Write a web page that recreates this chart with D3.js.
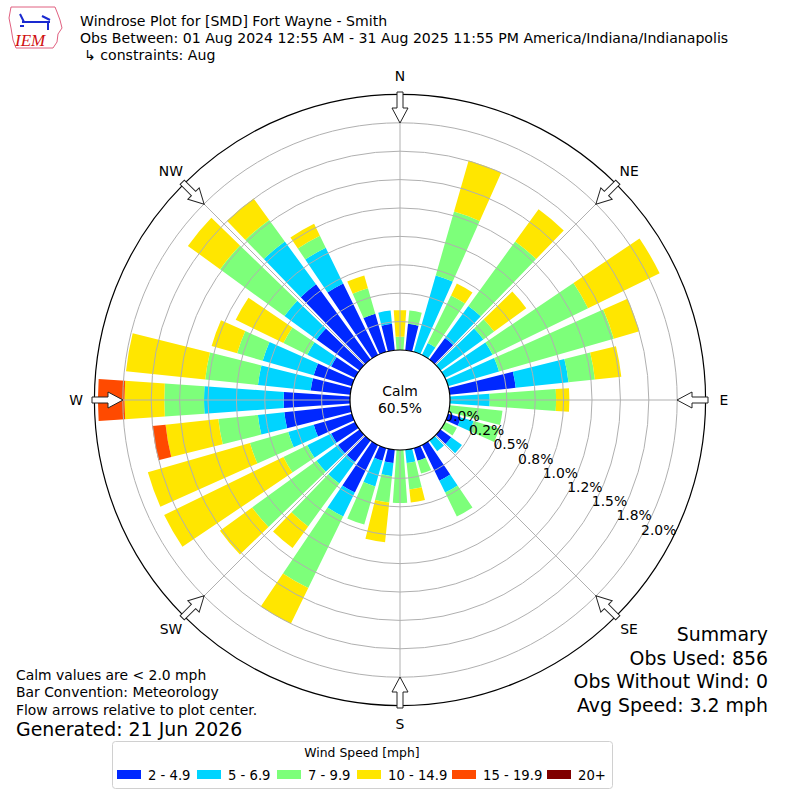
<!DOCTYPE html>
<html>
<head>
<meta charset="utf-8">
<script src="https://cdn.jsdelivr.net/npm/d3@7"></script>
<style>
  body { margin: 0; background: #fff; }
  text { font-family: "DejaVu Sans", sans-serif; fill: #000; }
  .title { font-size: 14.1px; }
  .dir-label { font-size: 13.9px; }
  .ring-label { font-size: 13.9px; }
  .note { font-size: 13.9px; }
  .big { font-size: 18.9px; }
  .legend-title { font-size: 12.4px; }
  .legend-text { font-size: 13.2px; }
</style>
</head>
<body>
<div id="windrose"></div>
<script>
// direction bins, degrees (meteorological, bar points where wind comes from)
const directions = [0, 10, 20, 30, 40, 50, 60, 70, 80, 90, 100, 110, 120, 130, 140, 150, 160, 170,
                    180, 190, 200, 210, 220, 230, 240, 250, 260, 270, 280, 290, 300, 310, 320, 330, 340, 350];

// percent of all obs per speed bin
const speed_2_5 = [0, .234, 0, 0, .234, 0, 0, 0, .584, 0, 0, .117, 0, .117, 0, .350, .117, 0,
                   0, .117, .117, .467, .234, .234, .234, .350, .584, .584, .350, .350, .234, .467, .818, .701, .350, .234];
const speed_5_7 = [0, 0, .701, .117, .350, .467, .467, .467, .467, .350, 0, .117, 0, .117, .117, .117, 0, .117,
                   0, .117, .234, .234, .234, .234, .234, .234, .234, .701, .467, .467, .234, .350, .467, .350, 0, .117];
const speed_7_10 = [.117, .117, .584, .467, .701, .117, .935, 1.051, .234, .584, .467, .234, .117, 0, 0, .234, .117, .234,
                    .467, .234, .350, .701, .467, .701, .234, .350, .350, .350, .467, .234, .234, .701, .234, .117, .234, 0];
const speed_10_15 = [.234, 0, .467, .117, .350, .350, .701, .234, .234, .117, 0, 0, 0, 0, 0, 0, 0, .117,
                     0, .350, 0, .350, .234, .350, 1.168, .935, .467, .350, .701, .234, .467, .350, .234, .117, .117, 0];
const speed_15_20 = [0, 0, 0, 0, 0, 0, 0, 0, 0, 0, 0, 0, 0, 0, 0, 0, 0, 0,
                     0, 0, 0, 0, 0, 0, 0, 0, .117, .234, 0, 0, 0, 0, 0, 0, 0, 0];
const speed_20 = [0, 0, 0, 0, 0, 0, 0, 0, 0, 0, 0, 0, 0, 0, 0, 0, 0, 0,
                  0, 0, 0, 0, 0, 0, 0, 0, 0, 0, 0, 0, 0, 0, 0, 0, 0, 0];

const speedLabels = ["2 - 4.9", "5 - 6.9", "7 - 9.9", "10 - 14.9", "15 - 19.9", "20+"];
const speedColors = ["#0028ff", "#00d4ff", "#7dff7a", "#ffe600", "#ff4a00", "#800000"];

const ringValues = [0, 0.25, 0.5, 0.75, 1.0, 1.25, 1.5, 1.75, 2.0];
const ringLabels = ["0.0%", "0.2%", "0.5%", "0.8%", "1.0%", "1.2%", "1.5%", "1.8%", "2.0%"];
const compass = ["N", "NE", "E", "SE", "S", "SW", "W", "NW"];
const compassAngles = [0, 45, 90, 135, 180, 225, 270, 315];

const calmPct = "60.5%";

const width = 800, height = 800;
const cx = 400, cy = 400;

const svg = d3.select("#windrose")
    .append("svg")
    .attr("width", width)
    .attr("height", height);

const plot = svg.append("g")
    .attr("transform", `translate(${cx},${cy})`);

// radial scale starts at the calm circle
const r = d3.scaleLinear()
    .domain([0, 2.25])
    .range([50, 305.6]);

const angle = d3.scaleLinear()
    .domain([0, 360])
    .range([0, 2 * Math.PI]);

const barHalf = 4; // degrees each side

// stack the speed bins per direction
const keys = ["s0", "s1", "s2", "s3", "s4", "s5"];
const series = [speed_2_5, speed_5_7, speed_7_10, speed_10_15, speed_15_20, speed_20];
const rows = directions.map((d, i) => {
    const row = {dir: d};
    keys.forEach((k, j) => row[k] = series[j][i]);
    return row;
});
const stacked = d3.stack().keys(keys)(rows);

const arc = d3.arc()
    .innerRadius(d => r(d[0]))
    .outerRadius(d => r(d[1]))
    .startAngle(d => angle(d.data.dir - barHalf))
    .endAngle(d => angle(d.data.dir + barHalf));

plot.append("g")
    .selectAll("g")
    .data(stacked)
    .join("g")
    .attr("fill", (d, i) => speedColors[i])
    .selectAll("path")
    .data(d => d.filter(s => s[1] - s[0] > 0))
    .join("path")
    .attr("d", arc);

// grid rings and spokes
plot.append("g")
    .selectAll("circle")
    .data(ringValues.slice(1))
    .join("circle")
    .attr("r", d => r(d))
    .attr("fill", "none")
    .attr("stroke", "#b0b0b0")
    .attr("stroke-width", 1);

plot.append("g")
    .selectAll("line")
    .data(compassAngles)
    .join("line")
    .attr("x1", d => r(0) * Math.sin(angle(d)))
    .attr("y1", d => -r(0) * Math.cos(angle(d)))
    .attr("x2", d => r(2.25) * Math.sin(angle(d)))
    .attr("y2", d => -r(2.25) * Math.cos(angle(d)))
    .attr("stroke", "#b0b0b0")
    .attr("stroke-width", 1);

// outer frame
plot.append("circle")
    .attr("r", r(2.25))
    .attr("fill", "none")
    .attr("stroke", "#000")
    .attr("stroke-width", 1.2);

// ring labels along the 120 degree ray
const labelRay = angle(120);
plot.append("g")
    .selectAll("text")
    .data(ringValues)
    .join("text")
    .attr("class", "ring-label")
    .attr("x", d => r(d) * Math.sin(labelRay) + 1)
    .attr("y", d => -r(d) * Math.cos(labelRay) - 4)
    .text((d, i) => ringLabels[i]);

// calm circle
plot.append("circle")
    .attr("r", r(0))
    .attr("fill", "#fff")
    .attr("stroke", "#000")
    .attr("stroke-width", 1.2);

plot.append("text")
    .attr("class", "dir-label")
    .attr("text-anchor", "middle")
    .attr("y", -4)
    .text("Calm");

plot.append("text")
    .attr("class", "dir-label")
    .attr("text-anchor", "middle")
    .attr("y", 13)
    .text(calmPct);

// compass labels
plot.append("g")
    .selectAll("text")
    .data(compass)
    .join("text")
    .attr("class", "dir-label")
    .attr("text-anchor", "middle")
    .attr("dominant-baseline", "central")
    .attr("x", (d, i) => 324 * Math.sin(angle(compassAngles[i])))
    .attr("y", (d, i) => -324 * Math.cos(angle(compassAngles[i])))
    .text(d => d);

// flow arrows, pointing to the centre
const arrowPts = [[-3, -308], [3, -308], [3, -292], [8, -292], [0, -277], [-8, -292], [-3, -292]];
plot.append("g")
    .selectAll("path")
    .data(compassAngles)
    .join("path")
    .attr("d", d3.line()(arrowPts) + "Z")
    .attr("transform", d => `rotate(${d})`)
    .attr("fill", "#fff")
    .attr("stroke", "#222")
    .attr("stroke-width", 1);

// titles
svg.append("text").attr("class", "title").attr("x", 80).attr("y", 26)
    .text("Windrose Plot for [SMD] Fort Wayne - Smith");
svg.append("text").attr("class", "title").attr("x", 80).attr("y", 43)
    .text("Obs Between: 01 Aug 2024 12:55 AM - 31 Aug 2025 11:55 PM America/Indiana/Indianapolis");
svg.append("text").attr("class", "title").attr("x", 84).attr("y", 60)
    .text("\u21b3 constraints: Aug");

// IEM logo, rough
const logo = svg.append("g");
logo.append("path")
    .attr("d", "M11,7 L55,7 L57,12 L60,20 L62,28 L58,34 L57,42 L53,48 L16,48 L13,40 L11,28 L9,18 Z")
    .attr("fill", "#fff")
    .attr("stroke", "#e06080")
    .attr("stroke-width", 1);
logo.append("path")
    .attr("d", "M22,22 L50,22 M20,14 L24,22 M42,16 L50,20 M48,22 L48,30 M20,26 L24,26")
    .attr("stroke", "#1a2ad0")
    .attr("stroke-width", 2)
    .attr("fill", "none");
logo.append("text")
    .attr("x", 15).attr("y", 46)
    .style("font-family", "Liberation Serif")
    .style("font-style", "italic")
    .style("font-size", "17px")
    .style("fill", "#d01010")
    .text("IEM");

// notes, bottom left
svg.append("text").attr("class", "note").attr("x", 16).attr("y", 680).text("Calm values are < 2.0 mph");
svg.append("text").attr("class", "note").attr("x", 16).attr("y", 697).text("Bar Convention: Meteorology");
svg.append("text").attr("class", "note").attr("x", 16).attr("y", 715).text("Flow arrows relative to plot center.");
svg.append("text").attr("class", "big").attr("x", 16).attr("y", 736).text("Generated: 21 Jun 2026");

// summary, bottom right
const summary = ["Summary", "Obs Used: 856", "Obs Without Wind: 0", "Avg Speed: 3.2 mph"];
svg.append("g")
    .selectAll("text")
    .data(summary)
    .join("text")
    .attr("class", "big")
    .attr("text-anchor", "end")
    .attr("x", 768)
    .attr("y", (d, i) => 641 + i * 23.5)
    .text(d => d);

// legend
svg.append("rect")
    .attr("x", 112.5).attr("y", 741.5)
    .attr("width", 500).attr("height", 47)
    .attr("rx", 3)
    .attr("fill", "#fff")
    .attr("stroke", "#d0d0d0");

svg.append("text")
    .attr("class", "legend-title")
    .attr("x", 362).attr("y", 757)
    .attr("text-anchor", "middle")
    .text("Wind Speed [mph]");

const legendX = [117, 197, 277, 357, 452, 547];
const legend = svg.append("g")
    .selectAll("g")
    .data(speedLabels)
    .join("g")
    .attr("transform", (d, i) => `translate(${legendX[i]},770)`);
legend.append("rect")
    .attr("width", 24).attr("height", 9)
    .attr("fill", (d, i) => speedColors[i]);
legend.append("text")
    .attr("class", "legend-text")
    .attr("x", 31).attr("y", 9.5)
    .text(d => d);
</script>
</body>
</html>
